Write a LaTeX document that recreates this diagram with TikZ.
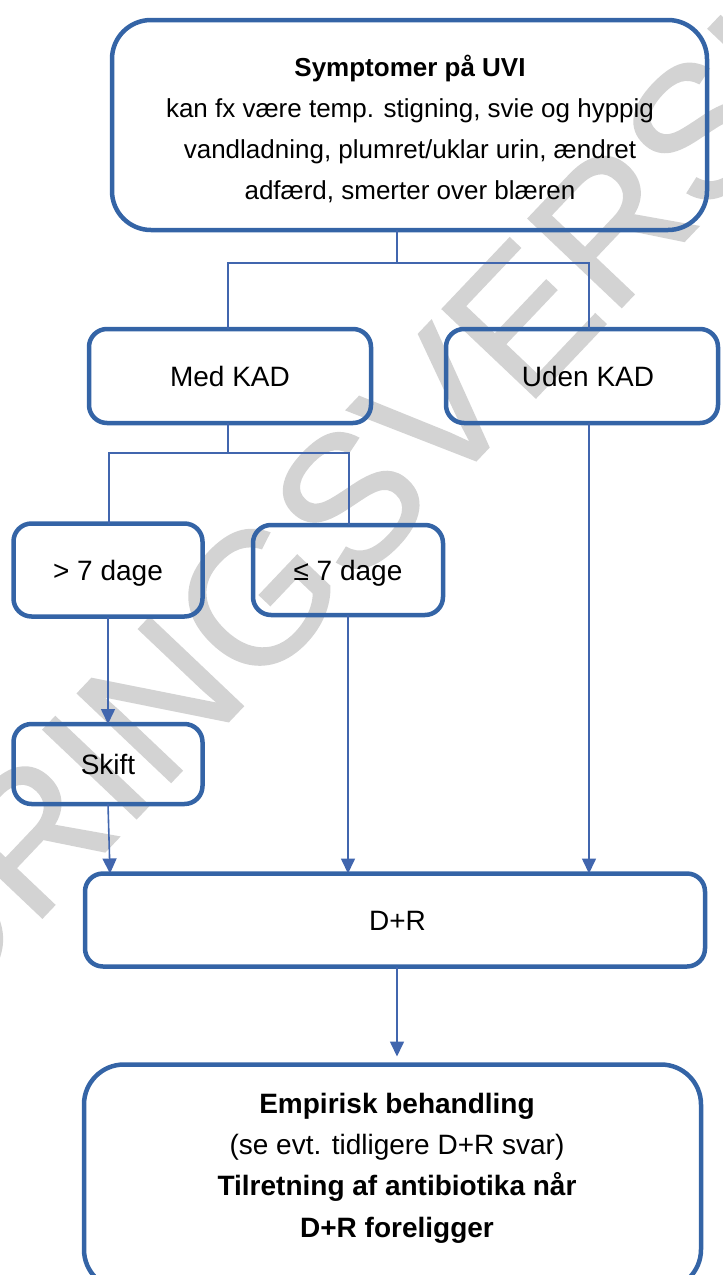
\documentclass[tikz,border=0pt]{standalone}
\usepackage{fontspec}
\setmainfont{Liberation Sans}
\newfontfamily\wmfont{Liberation Sans}[FakeBold=1]
\usetikzlibrary{arrows.meta,calc}
\definecolor{boxblue}{HTML}{3464A6}
\definecolor{linkblue}{HTML}{4166AE}
\definecolor{wmgray}{HTML}{D3D3D3}
\tikzset{
 stepbox/.style={draw=boxblue, line width=4.5pt, rounded corners=18pt, inner sep=0pt, outer sep=0pt, align=center, text height=20pt, text depth=0pt, font=\fontsize{28}{41}\selectfont},
 bigbox/.style={draw=boxblue, line width=4.5pt, rounded corners=39pt, inner sep=0pt, outer sep=0pt},
 boxtext/.style={inner sep=0pt, align=center},
 link/.style={draw=linkblue, line width=1.6pt},
 arr/.style={link, -{Triangle[length=15pt,width=14pt]}, fill=linkblue},
}
\begin{document}
\begin{tikzpicture}[x=1pt,y=-1pt]
\useasboundingbox (0,0) rectangle (723,1275);
\clip (0,0) rectangle (723,1275);
\node[text=wmgray, rotate=46.5, inner sep=0pt, font=\wmfont\fontsize{187}{187}\selectfont] (wm) at (382,466) {HØRINGSVERSION};

\node[bigbox, minimum width=595pt, minimum height=210pt] (top) at (409.5,125) {};
\node[boxtext, font=\fontsize{26}{41}\selectfont] (toptxt) at (410,129) {\textbf{Symptomer på UVI}\\kan fx være temp. stigning, svie og hyppig\\vandladning, plumret/uklar urin, ændret\\adfærd, smerter over blæren};
\node[stepbox, minimum width=282pt, minimum height=94pt] (med) at (230,376) {Med KAD};
\node[stepbox, minimum width=272pt, minimum height=94pt] (uden) at (582,376) {\hspace*{12pt}Uden KAD};
\node[stepbox, minimum width=189pt, minimum height=93pt] (gt) at (108,570) {> 7 dage};
\node[stepbox, minimum width=190pt, minimum height=90pt] (le) at (348,570) {≤ 7 dage};
\node[stepbox, minimum width=189pt, minimum height=80pt] (skift) at (108,764) {Skift};
\node[stepbox, minimum width=620pt, minimum height=93pt] (dr) at (395,920) {\hspace*{5pt}D+R};
\node[bigbox, rounded corners=40pt, minimum width=617pt, minimum height=225pt] (emp) at (392.5,1177) {};
\node[boxtext, font=\fontsize{28}{41.3}\selectfont] (emptxt) at (397,1168) {\textbf{Empirisk behandling}\\(se evt. tidligere D+R svar)\\\textbf{Tilretning af antibiotika når}\\\textbf{D+R foreligger}};

\coordinate (ja) at (397,263);
\coordinate (jaL) at (228,263);
\coordinate (jaR) at (589,263);
\coordinate (jb) at (228,453);
\coordinate (jbL) at (109,453);
\coordinate (jbR) at (349,453);

\draw[link] (top.south -| ja) -- (ja);
\draw[link] (med.north -| jaL) |- (jaR) -- (uden.north -| jaR);
\draw[link] (med.south -| jb) -- (jb);
\draw[link] (gt.north -| jbL) |- (jbR) -- (le.north -| jbR);

\draw[arr] (gt.south) -- (skift.north);
\draw[arr] (skift.south) -- ([xshift=2pt]skift.south |- dr.north);
\draw[arr] (le.south) -- (le.south |- dr.north);
\draw[arr] (uden.south -| jaR) -- (jaR |- dr.north);
\draw[arr, shorten >=8pt] (dr.south -| ja) -- (emp.north -| ja);
\end{tikzpicture}
\end{document}
